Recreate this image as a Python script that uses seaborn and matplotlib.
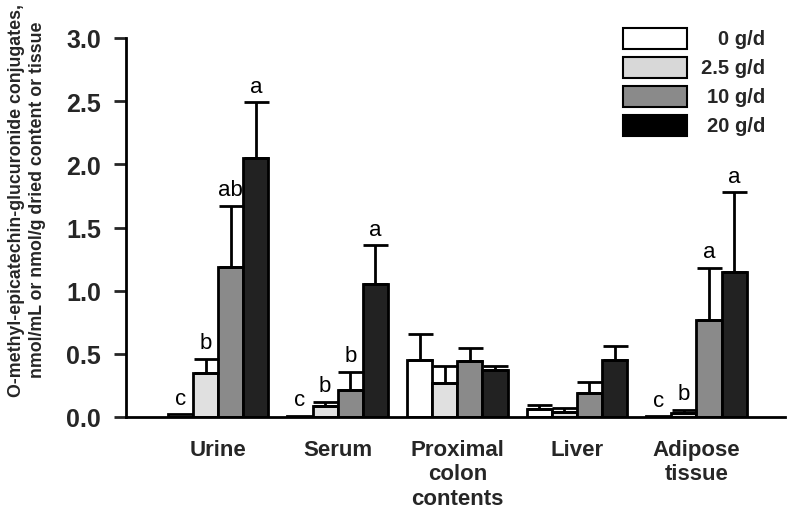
import matplotlib
matplotlib.use("Agg")
import matplotlib.pyplot as plt
from matplotlib.patches import Rectangle
import seaborn as sns
import pandas as pd
import numpy as np

# ---- data ----
tissues = ["Urine", "Serum", "Proximal\ncolon\ncontents", "Liver", "Adipose\ntissue"]
doses = ["0 g/d", "2.5 g/d", "10 g/d", "20 g/d"]
mean_0 = [0.02, 0.01, 0.45, 0.06, 0.005]
mean_25 = [0.35, 0.09, 0.27, 0.04, 0.03]
mean_10 = [1.19, 0.21, 0.44, 0.19, 0.77]
mean_20 = [2.05, 1.05, 0.37, 0.45, 1.15]
err_0 = [0.0, 0.0, 0.21, 0.035, 0.0]
err_25 = [0.11, 0.03, 0.13, 0.03, 0.025]
err_10 = [0.48, 0.15, 0.11, 0.09, 0.41]
err_20 = [0.44, 0.31, 0.03, 0.11, 0.63]
letters_0 = ["c", "c", "", "", "c"]
letters_25 = ["b", "b", "", "", "b"]
letters_10 = ["ab", "b", "", "", "a"]
letters_20 = ["a", "a", "", "", "a"]
colors = ["#ffffff", "#e0e0e0", "#8a8a8a", "#222222"]
legend_colors = ["#ffffff", "#d8d8d8", "#8a8a8a", "#000000"]

means = [mean_0, mean_25, mean_10, mean_20]
errs = [err_0, err_25, err_10, err_20]
letters = [letters_0, letters_25, letters_10, letters_20]

rows = []
for d, m in zip(doses, means):
    for t, v in zip(tissues, m):
        rows.append({"tissue": t, "dose": d, "value": v})
df = pd.DataFrame(rows)

sns.set_theme(style="white")
plt.rcParams["font.family"] = ["Liberation Sans", "DejaVu Sans"]

fig = plt.figure(figsize=(7.89, 5.10), dpi=100)
ax = fig.add_axes([126 / 789, 92 / 510, 659 / 789, 379 / 510])

sns.barplot(data=df, x="tissue", y="value", hue="dose", order=tissues,
            hue_order=doses, palette=colors, edgecolor="black", linewidth=2,
            width=0.84, errorbar=None, legend=False, ax=ax)

# error bars + letters, in hue order
bars = [p for p in ax.patches if isinstance(p, Rectangle)]
nt = len(tissues)
for hi in range(len(doses)):
    for ti in range(nt):
        p = bars[hi * nt + ti]
        x = p.get_x() + p.get_width() / 2
        h = p.get_height()
        e = errs[hi][ti]
        if e > 0:
            ax.errorbar(x, h, yerr=[[0], [e]], fmt="none", ecolor="black",
                        elinewidth=2, capsize=9, capthick=2, zorder=3)
        lab = letters[hi][ti]
        if lab:
            ax.annotate(lab, (x, h + e), xytext=(0, 4), textcoords="offset points",
                        ha="center", va="bottom", fontsize=16, color="black")

ax.set_xlim(-0.77, 4.74)
ax.set_ylim(0, 3.0)
ax.set_yticks(np.arange(0, 3.01, 0.5))
ax.set_yticklabels([f"{v:.1f}" for v in np.arange(0, 3.01, 0.5)],
                   fontsize=18, fontweight="bold")
ax.tick_params(axis="y", direction="out", length=9, width=2, left=True, pad=9)
ax.tick_params(axis="x", length=0, pad=16)
for lbl in ax.get_xticklabels():
    lbl.set_fontsize(16)
    lbl.set_fontweight("bold")
    lbl.set_va("top")
    lbl.set_linespacing(1.2)

for s in ["top", "right"]:
    ax.spines[s].set_visible(False)
for s in ["left", "bottom"]:
    ax.spines[s].set_linewidth(2)
    ax.spines[s].set_color("black")

ax.set_xlabel("")
ax.set_ylabel("O-methyl-epicatechin-glucuronide conjugates,\nnmol/mL or nmol/g dried content or tissue",
              fontsize=12.8, fontweight="bold", linespacing=1.3)
ax.yaxis.set_label_coords(-0.121, 0.575)

# legend (manual, right-aligned text)
for i, (d, c) in enumerate(zip(doses, legend_colors)):
    bottom = (418 - (50 + 29 * i)) / 379
    ax.add_patch(Rectangle((0.754, bottom), 0.097, 21 / 379, transform=ax.transAxes,
                           facecolor=c, edgecolor="black", linewidth=1.5, clip_on=False))
    ax.text(0.970, bottom + 10.5 / 379, d, transform=ax.transAxes, ha="right",
            va="center", fontsize=14.5, fontweight="bold")

fig.savefig("out.png", dpi=100)
